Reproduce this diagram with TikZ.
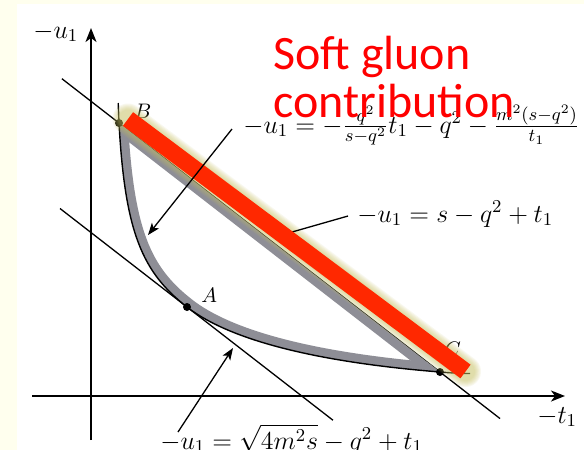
\RequirePackage{fix-cm}
\documentclass[tikz,border=0pt]{standalone}
\usepackage{fontspec}
\newfontfamily\softfont{Carlito}
\usetikzlibrary{arrows.meta,calc}
\definecolor{creambg}{RGB}{255,255,238}
\definecolor{bandgray}{RGB}{142,142,150}
\definecolor{glowc}{RGB}{200,196,100}
\definecolor{barred}{RGB}{255,40,0}
\begin{document}
\begin{tikzpicture}[x=0.5pt,y=-0.5pt,
  axis/.style={line width=0.8pt,-{Stealth[length=7pt,width=5.5pt,inset=2pt]}},
  thinline/.style={line width=0.65pt},
  pointer/.style={line width=0.65pt,-{Stealth[length=6pt,width=4.5pt,inset=1.5pt]}},
  dot/.style={circle,fill=black,inner sep=0pt,minimum size=4pt},
  eqlabel/.style={inner sep=0pt,anchor=base west,font=\fontsize{12.95}{15}\selectfont},
  ptlabel/.style={inner sep=0pt,anchor=base west,font=\fontsize{10.5}{12}\selectfont},
  softtext/.style={inner sep=0pt,anchor=base west,text=red,font=\softfont\fontsize{24}{24}\selectfont},
  glowline/.style={draw=glowc,opacity=0.1,line cap=round},
  redbar/.style={draw=barred,line width=8.5pt,line cap=butt},
  band/.style={draw=bandgray,line width=9pt},
]
% background
\fill[creambg] (0,0) rectangle (584,450);
\fill[white] (17,4) rectangle (584,450);
\useasboundingbox (0,0) rectangle (584,450);

% points
\coordinate (Bc) at (119,123);
\coordinate (Ac) at (187,307);
\coordinate (Cc) at (440,372);

% axes
\coordinate (xs) at (32,396);
\coordinate (xe) at (565,396);
\coordinate (ys) at (91,440);
\coordinate (ye) at (91,28);
\draw[axis] (xs) -- (xe);
\draw[axis] (ys) -- (ye);
\node[eqlabel] (ulab) at (33,38) {$-u_1$};
\node[eqlabel] (tlab) at (537,423) {$-t_1$};

% line through B and C, tangent line through A
\coordinate (bc1) at ($(Bc)!-0.178!(Cc)$);
\coordinate (bc2) at ($(Cc)!-0.187!(Bc)$);
\draw[thinline] (bc1) -- (bc2);
\coordinate (ta1) at ($(Ac)!-0.3956!($(Ac)+(321,249)$)$);
\coordinate (ta2) at ($(Ac)!0.4548!($(Ac)+(321,249)$)$);
\draw[thinline] (ta1) -- (ta2);

% gray band inside the region
\begin{scope}
  \clip ($(Bc)!-1!(Cc)$) -- ($(Cc)!-1!(Bc)$) -- (-300,700) -- cycle;
  \clip (118.2,103) -- (Bc) .. controls (125,232) and (142,272.1) .. (Ac) .. controls (237,345.8) and (340,364) .. (Cc) .. controls (450,372.8) and (460,373.5) .. (470,373.5) -- (700,373.5) -- (700,-300) -- (118.2,-300) -- cycle;
  \draw[band] (118.2,103) -- (Bc) .. controls (125,232) and (142,272.1) .. (Ac) .. controls (237,345.8) and (340,364) .. (Cc) .. controls (450,372.8) and (460,373.5) .. (470,373.5);
  \draw[band] (bc1) -- (bc2);
\end{scope}

% boundary curve
\coordinate (cv1) at (118.2,103);
\coordinate (cv2) at (470,373.5);
\draw[line width=0.7pt] (cv1) -- (Bc) .. controls (125,232) and (142,272.1) .. (Ac) .. controls (237,345.8) and (340,364) .. (Cc) .. controls (450,372.8) and (460,373.5) .. (cv2);

% dots and labels
\node[dot] (B) at (Bc) {};
\node[dot] (A) at (Ac) {};
\node[dot] (C) at (Cc) {};
\node[ptlabel] (Blab) at (134,118) {$B$};
\node[ptlabel] (Alab) at (201,302) {$A$};
\node[ptlabel] (Clab) at (444,356) {$C$};

% glow and red bar
\coordinate (rs) at (128,119);
\coordinate (re) at (465.5,371.5);
\foreach \w in {15.5,14.5,13.5,12.5,11.5,10.5,9.5}
  \draw[glowline,line width=\w pt] (rs) -- (re);

% pointer to the line BC (end hidden under the bar)
\coordinate (p2a) at (348,216);
\coordinate (p2b) at (285,234);
\draw[thinline] (p2a) -- (p2b);

\draw[redbar] (rs) -- (re);

% equations and pointers
\node[eqlabel] (eq1) at (243,133) {$-u_1=-\frac{q^2}{s-q^2}t_1-q^2-\frac{m^2(s-q^2)}{t_1}$};
\node[eqlabel] (eq2) at (357,222) {$-u_1=s-q^2+t_1$};
\node[eqlabel] (eq3) at (160,449) {$-u_1=\sqrt{4m^2s}-q^2+t_1$};
\coordinate (p1a) at (232,129);
\coordinate (p1b) at (148,235);
\draw[pointer] (p1a) -- (p1b);
\coordinate (p3a) at (178,432);
\coordinate (p3b) at (233,348);
\draw[pointer] (p3a) -- (p3b);

% title text
\node[softtext] (soft1) at (273,69) {Soft gluon};
\node[softtext] (soft2) at (273,117) {contribution};
\end{tikzpicture}
\end{document}
